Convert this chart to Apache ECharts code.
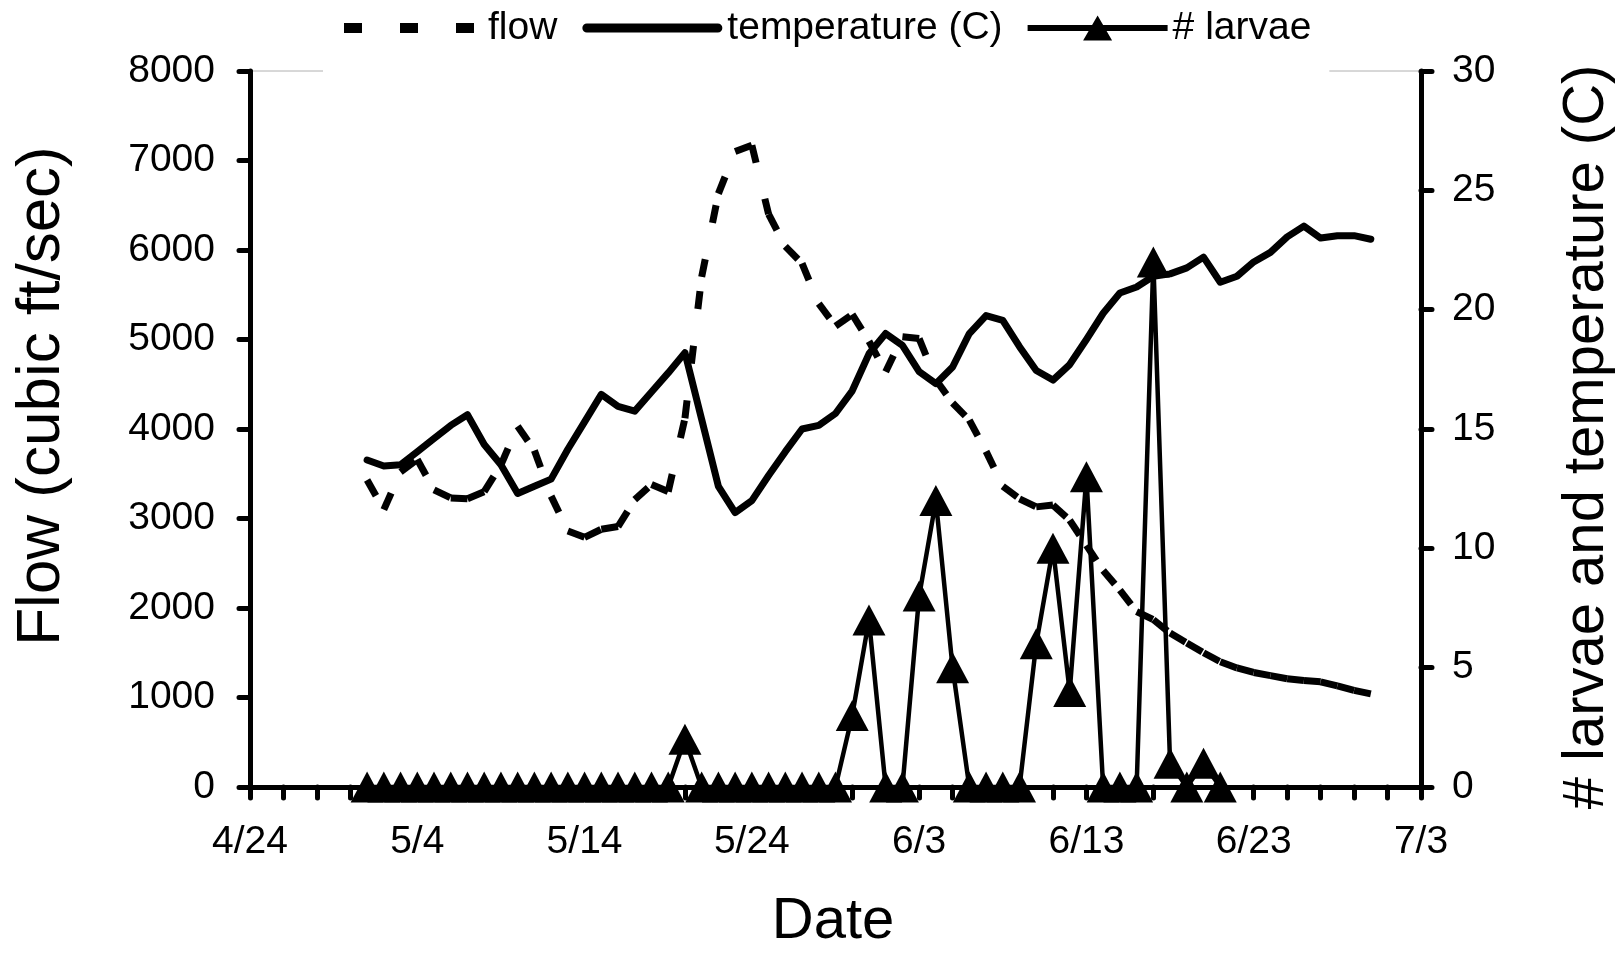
<!DOCTYPE html>
<html>
<head>
<meta charset="utf-8">
<title>flow, temperature and larvae</title>
<script src="https://cdn.jsdelivr.net/npm/echarts@6.0.0/dist/echarts.min.js"></script>
<style>
  html, body { margin: 0; padding: 0; background: #fff; }
  #chart { width: 1623px; height: 956px; }
</style>
</head>
<body>
<div id="chart"></div>
<script>
// sampling dates, 5/1 .. 6/30
var dates = [
  '5/1', '5/2', '5/3', '5/4', '5/5', '5/6', '5/7', '5/8', '5/9', '5/10',
  '5/11', '5/12', '5/13', '5/14', '5/15', '5/16', '5/17', '5/18', '5/19', '5/20',
  '5/21', '5/22', '5/23', '5/24', '5/25', '5/26', '5/27', '5/28', '5/29', '5/30', '5/31',
  '6/1', '6/2', '6/3', '6/4', '6/5', '6/6', '6/7', '6/8', '6/9', '6/10',
  '6/11', '6/12', '6/13', '6/14', '6/15', '6/16', '6/17', '6/18', '6/19', '6/20',
  '6/21', '6/22', '6/23', '6/24', '6/25', '6/26', '6/27', '6/28', '6/29', '6/30'
]

// flow (cubic ft/sec)
var flow = [
  3430, 3100, 3520, 3660, 3320, 3230, 3220, 3300, 3600, 4030,
  3760, 3250, 2860, 2790, 2880, 2910, 3210, 3380, 3300, 4120,
  5700, 6630, 7100, 7170, 6400, 6040, 5850, 5400, 5150, 5280, 4980,
  4640, 5030, 5010, 4550, 4290, 4100, 3750, 3360, 3220, 3130,
  3150, 2980, 2700, 2420, 2200, 1960, 1870, 1720, 1610, 1500,
  1400, 1330, 1280, 1245, 1210, 1190, 1175, 1130, 1080, 1040
]

// temperature (C)
var temperature = [
  13.7, 13.45, 13.5, 14.05, 14.6, 15.15, 15.6, 14.35, 13.5, 12.3,
  12.6, 12.9, 14.15, 15.3, 16.45, 15.95, 15.75, 16.55, 17.35, 18.2,
  15.4, 12.6, 11.5, 12.0, 13.05, 14.05, 15.0, 15.15, 15.65, 16.6, 18.15,
  19.0, 18.5, 17.4, 16.9, 17.6, 19.0, 19.75, 19.55, 18.45, 17.45,
  17.05, 17.7, 18.75, 19.85, 20.7, 20.95, 21.4, 21.5, 21.75, 22.2,
  21.15, 21.4, 22.0, 22.4, 23.05, 23.5, 23.0, 23.1, 23.1, 22.95
]

// # larvae, counted 5/1 .. 6/21
var larvae = [
  0, 0, 0, 0, 0, 0, 0, 0, 0, 0,
  0, 0, 0, 0, 0, 0, 0, 0, 0, 2,
  0, 0, 0, 0, 0, 0, 0, 0, 0, 3, 7,
  0, 0, 8, 12, 5, 0, 0, 0, 0, 6,
  10, 4, 13, 0, 0, 0, 22, 1, 0, 1,
  0
]

var tickLabels = ['4/24', '5/4', '5/14', '5/24', '6/3', '6/13', '6/23', '7/3']

// days after 4/24
function dayOf(s) {
  var p = s.split('/')
  var m = +p[0], d = +p[1]
  if (m === 4) return d - 24
  if (m === 5) return d + 6
  if (m === 6) return d + 37
  return d + 67
}

var font = 'Liberation Sans, Arial, sans-serif'

// flow is drawn one segment at a time so the dash pattern restarts at every point
var flowSegs = []
for (var i = 0; i < flow.length - 1; i++) {
  flowSegs.push([dayOf(dates[i]), flow[i], dayOf(dates[i + 1]), flow[i + 1]])
}
var tempData = temperature.map(function (v, i) { return [dayOf(dates[i]), v] })
var larvaeData = larvae.map(function (v, i) { return [dayOf(dates[i]), v] })

var axisLineStyle = { color: '#000', width: 5, cap: 'round' }
var tickStyle = { color: '#000', width: 5, cap: 'round' }

// legend icons, all drawn in a 140 x 32 box
var iconBox = 'M0,0L0,0ZM140,32L140,32Z'
var flowIcon = 'path://' + iconBox + 'M1,11h18v10h-18zM57,11h18v10h-18zM113,11h18v10h-18z'
var tempIcon = 'path://' + iconBox + 'M4.5,11.5L135.5,11.5A4.5,4.5,0,0,1,135.5,20.5L4.5,20.5A4.5,4.5,0,0,1,4.5,11.5Z'
var larvaeIcon = 'path://' + iconBox + 'M0,13L140,13L140,19L0,19ZM70,3.5L84.5,28.5L55.5,28.5Z'

var myChart = echarts.init(document.getElementById('chart'))

var option = {
  animation: false,
  backgroundColor: '#fff',
  grid: {
    left: 250,
    right: 202,
    top: 71,
    bottom: 169,
    containLabel: false,
    outerBoundsMode: 'none',
    show: true,
    borderColor: '#b0b0b0',
    borderWidth: 1,
    backgroundColor: 'transparent'
  },
  legend: {
    left: 323,
    top: 0,
    padding: [8, 18, 26, 20],
    backgroundColor: '#fff',
    itemWidth: 140,
    itemHeight: 32,
    itemGap: 25,
    selectedMode: false,
    textStyle: { fontFamily: font, fontSize: 39, color: '#000', lineHeight: 40 },
    data: [
      { name: 'flow', icon: flowIcon },
      { name: 'temperature (C)', icon: tempIcon },
      { name: '# larvae', icon: larvaeIcon }
    ]
  },
  xAxis: {
    type: 'value',
    min: 0,
    max: 70,
    interval: 2,
    axisLine: { show: true, lineStyle: axisLineStyle },
    axisTick: { show: true, length: 11, lineStyle: tickStyle },
    splitLine: { show: false },
    axisLabel: {
      margin: 36,
      color: '#000',
      fontFamily: font,
      fontSize: 39,
      formatter: function (v) {
        return v % 10 === 0 ? tickLabels[v / 10] : ''
      }
    }
  },
  yAxis: [
    {
      type: 'value',
      min: 0,
      max: 8000,
      interval: 1000,
      position: 'left',
      axisLine: { show: true, lineStyle: axisLineStyle },
      axisTick: { show: true, length: 11, lineStyle: tickStyle },
      splitLine: { show: false },
      axisLabel: {
        margin: 35, color: '#000', fontFamily: font, fontSize: 39,
        formatter: function (v) { return String(v) }
      }
    },
    {
      type: 'value',
      min: 0,
      max: 30,
      interval: 5,
      position: 'right',
      axisLine: { show: true, lineStyle: axisLineStyle },
      axisTick: { show: true, length: 11, lineStyle: tickStyle },
      splitLine: { show: false },
      axisLabel: { margin: 31, color: '#000', fontFamily: font, fontSize: 39 }
    }
  ],
  graphic: [
    {
      type: 'text', x: 42, y: 396, rotation: Math.PI / 2,
      style: { text: 'Flow (cubic ft/sec)', fontFamily: font, fontSize: 62, fill: '#000', align: 'center', verticalAlign: 'middle' }
    },
    {
      type: 'text', x: 1587, y: 437, rotation: Math.PI / 2,
      style: { text: '# larvae and temperature (C)', fontFamily: font, fontSize: 58, fill: '#000', align: 'center', verticalAlign: 'middle' }
    },
    {
      type: 'text', x: 833, y: 922,
      style: { text: 'Date', fontFamily: font, fontSize: 58, fill: '#000', align: 'center', verticalAlign: 'middle' }
    }
  ],
  series: [
    {
      name: 'flow',
      type: 'custom',
      xAxisIndex: 0,
      yAxisIndex: 0,
      itemStyle: { color: '#000' },
      encode: { x: [0, 2], y: [1, 3] },
      data: flowSegs,
      renderItem: function (params, api) {
        var p0 = api.coord([api.value(0), api.value(1)])
        var p1 = api.coord([api.value(2), api.value(3)])
        return {
          type: 'line',
          shape: { x1: p0[0], y1: p0[1], x2: p1[0], y2: p1[1] },
          style: { stroke: '#000', fill: null, lineWidth: 7, lineDash: [18, 37], lineCap: 'butt' }
        }
      },
      z: 2
    },
    {
      name: 'temperature (C)',
      type: 'line',
      yAxisIndex: 1,
      data: tempData,
      symbol: 'none',
      itemStyle: { color: '#000' },
      lineStyle: { color: '#000', width: 7, cap: 'round', join: 'round' },
      z: 3
    },
    {
      name: '# larvae',
      type: 'line',
      yAxisIndex: 1,
      data: larvaeData,
      clip: false,
      symbol: 'triangle',
      symbolSize: [33, 31],
      showAllSymbol: true,
      itemStyle: { color: '#000' },
      lineStyle: { color: '#000', width: 4.5 },
      z: 4
    }
  ]
}

myChart.setOption(option)
window.onresize = function () {
  myChart.resize()
}
</script>
</body>
</html>
